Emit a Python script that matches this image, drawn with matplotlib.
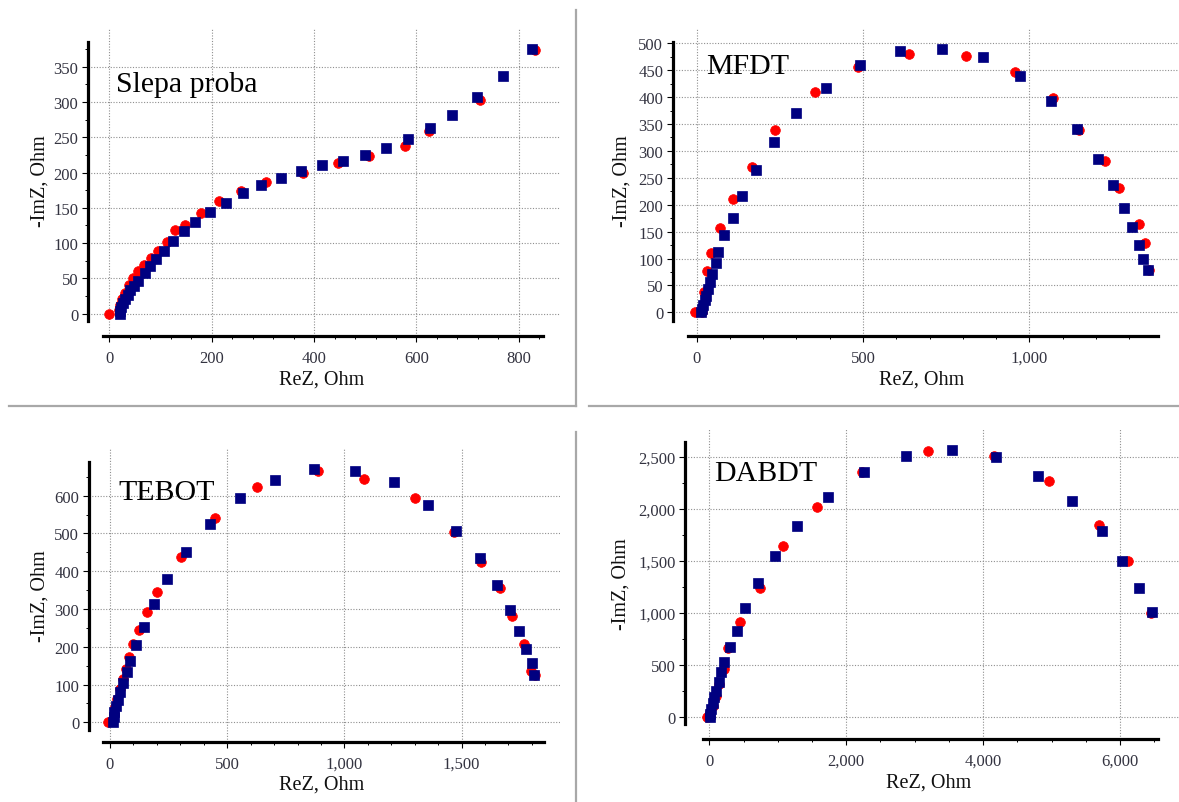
# Nyquist plots - four inhibitors, two runs each
import matplotlib
matplotlib.use("Agg")
import numpy as np
import matplotlib.pyplot as plt
from matplotlib.ticker import FixedLocator, FuncFormatter
from matplotlib.lines import Line2D

W, H = 1179, 803

# ---- Slepa proba ----
slepa_blue_x = [826, 769, 719, 670, 626, 584, 540, 499, 456, 416, 375, 335, 296, 261, 227, 197, 168, 146, 125, 106, 92, 79, 69,
                56, 49, 41, 36, 30, 27, 23, 21, 20]
slepa_blue_y = [375, 336, 307, 282, 263, 247, 235, 225, 217, 210, 202, 192, 183, 171, 157, 144, 130, 117, 103, 89, 78, 68, 58,
                47, 39, 33, 27, 21, 15, 9, 4, 0]
slepa_red_x = [832, 725, 625, 578, 507, 446, 378, 306, 257, 215, 180, 148, 129, 112, 95, 81, 67, 56, 47, 38, 30, 24, 21, 19, 0]
slepa_red_y = [374, 302, 259, 238, 224, 214, 200, 186, 174, 159, 143, 126, 118, 101, 89, 79, 69, 61, 50, 40, 30, 21, 12, 5, 0]

# ---- MFDT ----
mfdt_blue_x = [1356, 1342, 1330, 1308, 1283, 1251, 1205, 1142, 1065, 970, 859, 737, 612, 492, 388, 300, 234, 179, 137, 109,
               83, 66, 59, 46, 41, 35, 29, 24, 20, 16, 13]
mfdt_blue_y = [79, 99, 125, 158, 194, 237, 285, 340, 393, 439, 474, 490, 485, 460, 416, 370, 316, 265, 217, 175,
               143, 113, 91, 71, 56, 43, 31, 22, 14, 6, 0]
mfdt_red_x = [1358, 1347, 1328, 1270, 1228, 1150, 1072, 955, 810, 638, 484, 355, 237, 168, 111, 71, 44, 33, 21, 16, -6]
mfdt_red_y = [79, 128, 165, 231, 282, 339, 398, 446, 476, 481, 455, 409, 338, 270, 211, 157, 110, 77, 37, 0, 1]

# ---- TEBOT ----
tebot_blue_x = [1810, 1799, 1776, 1746, 1707, 1651, 1578, 1478, 1355, 1210, 1044, 871, 705, 553, 428, 326, 244, 189, 144, 110,
                87, 71, 55, 44, 34, 26, 19, 15, 11]
tebot_blue_y = [126, 157, 194, 243, 298, 364, 434, 507, 576, 635, 666, 671, 642, 594, 525, 450, 379, 313, 253, 205,
                163, 132, 104, 79, 59, 42, 27, 13, 2]
tebot_red_x = [1815, 1796, 1767, 1714, 1663, 1584, 1467, 1300, 1084, 886, 628, 450, 305, 200, 157, 123, 98, 82, 68, 55, 44, 31,
               21, 15, -8]
tebot_red_y = [126, 137, 206, 282, 356, 425, 505, 593, 644, 664, 624, 541, 437, 346, 291, 245, 207, 172, 141, 115, 88, 62,
               40, 22, 2]

# ---- DABDT ----
dabdt_blue_x = [6464, 6282, 6033, 5735, 5304, 4801, 4193, 3547, 2873, 2265, 1740, 1287, 961, 707, 519, 398, 298, 215, 177, 138,
                99, 72, 50, 28, 11, 6]
dabdt_blue_y = [1007, 1237, 1503, 1790, 2072, 2311, 2494, 2567, 2510, 2350, 2110, 1832, 1551, 1288, 1049, 831, 671, 527, 432,
                336, 256, 192, 134, 80, 32, 0]
dabdt_red_x = [6459, 6116, 5691, 4956, 4155, 3193, 2232, 1569, 1077, 740, 453, 276, 215, 149, 105, 55, 11, -40]
dabdt_red_y = [1001, 1496, 1845, 2263, 2510, 2551, 2356, 2020, 1640, 1240, 911, 665, 464, 320, 208, 112, 48, 0]

xlabel = "ReZ, Ohm"
ylabel = "-ImZ, Ohm"

plt.rcParams["font.family"] = ["Liberation Serif", "DejaVu Serif"]

fig = plt.figure(figsize=(W / 100, H / 100), dpi=100)
fig.patch.set_facecolor("white")


def fx(px):
    return px / W


def fy(py):
    return 1 - py / H


def steps(lo, hi, step):
    # tick positions that fall on the drawn part of the spine
    start = np.ceil(lo / step) * step
    return np.arange(start, hi + 1e-9, step) + 0.0


def panel(box, xlim, ylim, xbounds, ybounds, xmaj, xmin, ymaj, ymin, bx, by, rx, ry, name, name_pos, xlab_pos, ylab_pos):
    left, top, right, bottom = box
    ax = fig.add_axes([fx(left), fy(bottom), fx(right) - fx(left), fy(top) - fy(bottom)])
    ax.set_xlim(xlim)
    ax.set_ylim(ylim)
    for s in ["top", "right"]:
        ax.spines[s].set_visible(False)
    ax.spines["left"].set_linewidth(2.3)
    ax.spines["bottom"].set_linewidth(2.3)
    ax.spines["left"].set_bounds(*ybounds)
    ax.spines["bottom"].set_bounds(*xbounds)
    ax.xaxis.set_major_locator(FixedLocator(steps(xbounds[0], xbounds[1], xmaj)))
    ax.xaxis.set_minor_locator(FixedLocator(steps(xbounds[0], xbounds[1], xmin)))
    ax.yaxis.set_major_locator(FixedLocator(steps(ybounds[0], ybounds[1], ymaj)))
    ax.yaxis.set_minor_locator(FixedLocator(steps(ybounds[0], ybounds[1], ymin)))
    fmt = FuncFormatter(lambda v, p: "{:,.0f}".format(abs(v) if abs(v) < 0.5 else v))
    ax.xaxis.set_major_formatter(fmt)
    ax.yaxis.set_major_formatter(fmt)
    ax.tick_params(which="major", direction="out", length=4, width=0.8, labelsize=12, labelcolor="#333340", pad=3)
    ax.tick_params(which="minor", direction="out", length=2.5, width=0.7)
    ax.tick_params(axis="x", which="major", pad=6)
    ax.grid(True, which="major", color="#8f8f8f", linestyle=(0, (1, 1.5)), linewidth=0.8)
    ax.set_axisbelow(True)

    ax.plot(rx, ry, linestyle="none", marker="o", ms=7, color="#ff0000", mec="#ff0000", mew=0.5, zorder=3)
    ax.plot(bx, by, linestyle="none", marker="s", ms=6.6, color="#000080", mec="#000080", mew=0.5, zorder=4)

    ax.set_xlabel(xlabel, fontsize=14.5, color="#111111")
    ax.set_ylabel(ylabel, fontsize=14.5, color="#111111")
    ax.xaxis.label.set_va("center")
    ax.yaxis.label.set_va("center")
    ax.yaxis.label.set_rotation_mode("anchor")
    ax.xaxis.set_label_coords((xlab_pos[0] - left) / (right - left), (bottom - xlab_pos[1]) / (bottom - top))
    ax.yaxis.set_label_coords((ylab_pos[0] - left) / (right - left), (bottom - ylab_pos[1]) / (bottom - top))

    fig.text(fx(name_pos[0]), fy(name_pos[1]), name, fontsize=21.5, color="black", va="baseline", ha="left")
    return ax


panel((88, 29, 560, 337), (-41.6, 880.3), (-31.6, 404.7), (-12.3, 847), (-10.3, 385.3),
      200, 40, 50, 25, slepa_blue_x, slepa_blue_y, slepa_red_x, slepa_red_y,
      "Slepa proba", (116, 92), (321.5, 380), (40, 181))

panel((673, 29, 1179, 337), (-70.6, 1449), (-44, 528.4), (-25.5, 1386), (-16.2, 503),
      500, 100, 50, 25, mfdt_blue_x, mfdt_blue_y, mfdt_red_x, mfdt_red_y,
      "MFDT", (706, 74), (921.7, 380), (622, 181))

panel((89, 450, 560, 743), (-89.6, 1920), (-52.1, 723.4), (-29.9, 1850), (-19.6, 689),
      500, 100, 100, 50, tebot_blue_x, tebot_blue_y, tebot_red_x, tebot_red_y,
      "TEBOT", (118, 500), (321.5, 785), (40, 596))

panel((685.4, 430, 1179, 740), (-349, 6861), (-208, 2765), (-99, 6553), (-64, 2637),
      2000, 500, 500, 250, dabdt_blue_x, dabdt_blue_y, dabdt_red_x, dabdt_red_y,
      "DABDT", (714.6, 481), (928.5, 783), (621, 584))

# grey separators between the four screenshots
border = dict(color="#a8a8a8", linewidth=1.6, transform=fig.transFigure)
fig.add_artist(Line2D([fx(576), fx(576)], [fy(11), fy(407)], **border))
fig.add_artist(Line2D([fx(9), fx(576)], [fy(407), fy(407)], **border))
fig.add_artist(Line2D([fx(589), fx(1179)], [fy(407), fy(407)], **border))
fig.add_artist(Line2D([fx(576), fx(576)], [fy(433), fy(803)], **border))

fig.savefig("out.png", dpi=100, facecolor="white")
